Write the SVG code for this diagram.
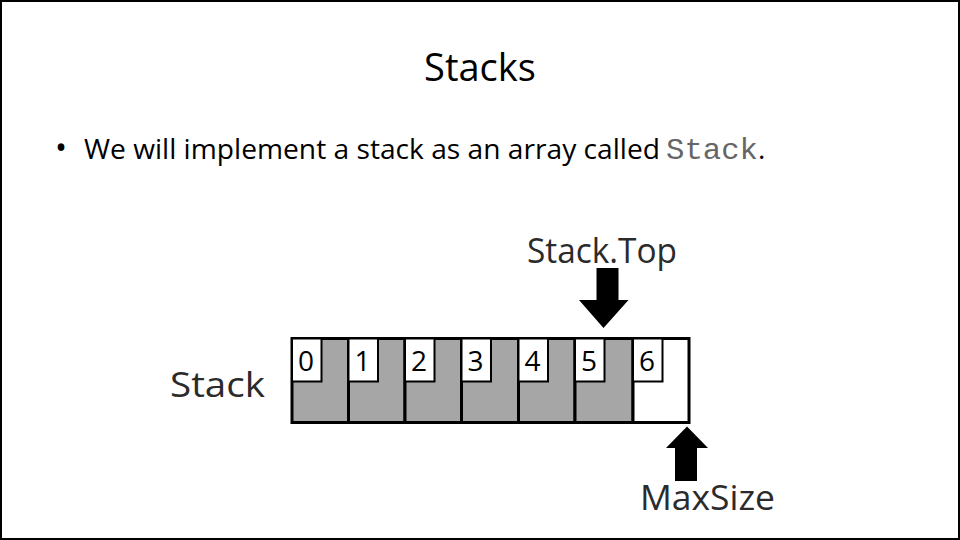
<svg xmlns="http://www.w3.org/2000/svg" width="960" height="540" viewBox="0 0 960 540">
<style>
.cell{fill:#a6a6a6;stroke:#000;stroke-width:3}
.lbl{fill:#fff;stroke:#000;stroke-width:2}
.dig{font-family:"Open Sans","Liberation Sans",sans-serif;font-size:28px;fill:#000}
.big{font-family:"Open Sans","Liberation Sans",sans-serif;font-size:35px;font-weight:500;fill:#2b2b2b}
.arr{fill:#000}
</style>
<rect x="1" y="1" width="958" height="538" fill="#fff" stroke="#000" stroke-width="2"/>
<text x="480" y="81" text-anchor="middle" font-family="Open Sans, Liberation Sans, sans-serif" font-size="38" fill="#000">Stacks</text>
<text x="55" y="159" font-family="Open Sans, Liberation Sans, sans-serif" font-size="32" fill="#000">•</text>
<text x="84" y="159" font-family="Open Sans, Liberation Sans, sans-serif" font-size="28" fill="#000" textLength="576" lengthAdjust="spacingAndGlyphs">We will implement a stack as an array called</text>
<text x="666" y="159" font-family="Liberation Mono, monospace" fill="#666" font-size="30" textLength="92" lengthAdjust="spacingAndGlyphs">Stack</text>
<text x="758" y="159" font-family="Open Sans, Liberation Sans, sans-serif" font-size="28" fill="#000">.</text>
<g id="stack-label"><text class="big" x="170" y="397" textLength="95" lengthAdjust="spacingAndGlyphs">Stack</text></g>
<g id="array">
<rect class="cell" x="292" y="338.5" width="56.5" height="84"/>
<rect class="cell" x="348.5" y="338.5" width="56.5" height="84"/>
<rect class="cell" x="405" y="338.5" width="56.5" height="84"/>
<rect class="cell" x="461.5" y="338.5" width="57" height="84"/>
<rect class="cell" x="518.5" y="338.5" width="56.5" height="84"/>
<rect class="cell" x="575" y="338.5" width="58" height="84"/>
<rect class="cell" x="633" y="338.5" width="56" height="84" style="fill:#fff"/>
<rect class="lbl" x="292" y="338.5" width="29.5" height="43"/>
<rect class="lbl" x="348.5" y="338.5" width="29.5" height="43"/>
<rect class="lbl" x="405" y="338.5" width="29.5" height="43"/>
<rect class="lbl" x="461.5" y="338.5" width="29.5" height="43"/>
<rect class="lbl" x="518.5" y="338.5" width="29.5" height="43"/>
<rect class="lbl" x="575" y="338.5" width="29.5" height="43"/>
<rect class="lbl" x="633" y="338.5" width="29.5" height="43"/>
<text class="dig" x="298" y="371">0</text>
<text class="dig" x="354.5" y="371">1</text>
<text class="dig" x="411" y="371">2</text>
<text class="dig" x="467.5" y="371">3</text>
<text class="dig" x="524.5" y="371">4</text>
<text class="dig" x="581" y="371">5</text>
<text class="dig" x="639" y="371">6</text>
</g>
<g id="stacktop"><text class="big" x="527" y="263" textLength="150" lengthAdjust="spacingAndGlyphs">Stack.Top</text></g>
<g id="maxsize"><text class="big" x="640" y="510" textLength="135" lengthAdjust="spacingAndGlyphs">MaxSize</text></g>
<g id="connectors">
<polygon class="arr" points="596.5,268 618.5,268 618.5,300 628.5,300 603.5,328 579,300 596.5,300"/>
<polygon class="arr" points="687,426.5 708,448 697,448 697,481 675,481 675,448 666,448"/>
</g>
</svg>
